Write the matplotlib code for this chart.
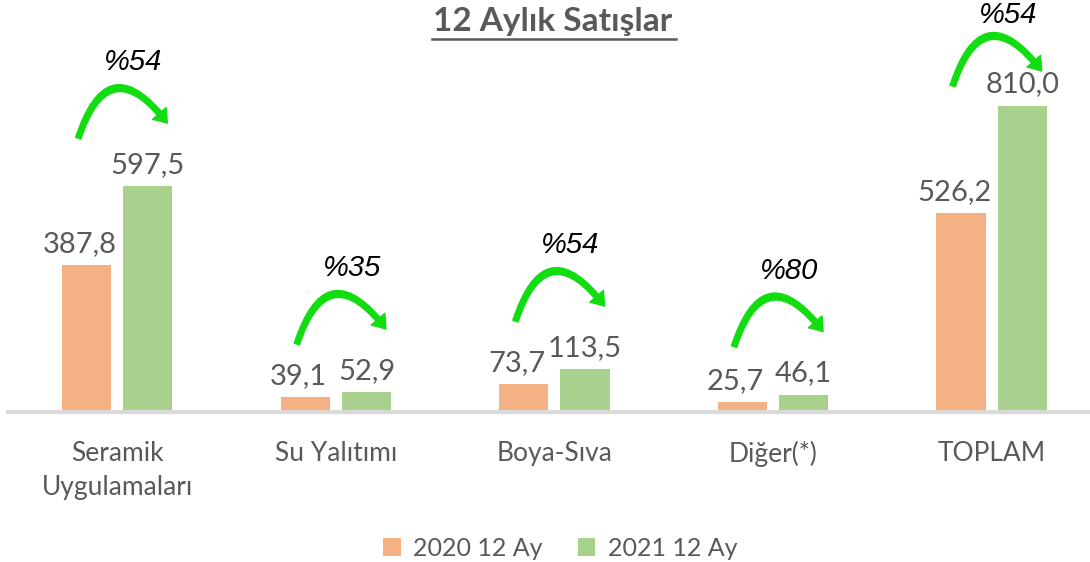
import matplotlib
matplotlib.use("Agg")
import matplotlib.pyplot as plt
from matplotlib.patches import FancyArrowPatch
from matplotlib.lines import Line2D
import numpy as np

plt.rcParams['font.family'] = ['Lato', 'DejaVu Sans']

categories = ["Seramik\nUygulamaları", "Su Yalıtımı", "Boya-Sıva", "Diğer(*)", "TOPLAM"]
sales_2020 = [387.8, 39.1, 73.7, 25.7, 526.2]
sales_2021 = [597.5, 52.9, 113.5, 46.1, 810.0]
growth_labels = ["%54", "%35", "%54", "%80", "%54"]
series_names = ["2020 12 Ay", "2021 12 Ay"]

orange = '#F4B183'
green = '#A9D18E'
gray_txt = '#595959'
arrow_green = '#11DD11'

fig = plt.figure(figsize=(10.9, 5.62), dpi=100)
ax = fig.add_axes([8 / 1090, 150 / 562, 1082 / 1090, 412 / 562])

x = np.arange(len(categories))
w = 0.225
off = 0.14
ymax = 1090
ax.set_ylim(0, ymax)
ax.set_xlim(-0.5, 4.45)

b1 = ax.bar(x - off, sales_2020, w, color=orange, label=series_names[0], zorder=2)
b2 = ax.bar(x + off, sales_2021, w, color=green, label=series_names[1], zorder=2)

def fmt(v):
    return ("%.1f" % v).replace(".", ",")

for xi, v in zip(x - off, sales_2020):
    ax.annotate(fmt(v), (xi, v), xytext=(-5, 6), textcoords='offset points',
                ha='center', va='bottom', fontsize=21, color=gray_txt)
for xi, v in zip(x + off, sales_2021):
    ax.annotate(fmt(v), (xi, v), xytext=(0, 6), textcoords='offset points',
                ha='center', va='bottom', fontsize=21, color=gray_txt)

# growth arrows
px_per_unit = 412 / ymax
dx_unit = 1082 / 4.95  # px per category
for i, (v, lab) in enumerate(zip(sales_2021, growth_labels)):
    base = min(v + 48 / px_per_unit, ymax - 86 / px_per_unit)
    start = (i - 39 / dx_unit, base)
    end = (i + 50 / dx_unit, base + 15 / px_per_unit)
    arr = FancyArrowPatch(start, end, connectionstyle="arc3,rad=-0.95",
                          arrowstyle="simple,head_width=13,head_length=9,tail_width=4",
                          mutation_scale=1, color=arrow_green, shrinkA=0, shrinkB=0,
                          zorder=3, clip_on=False)
    ax.add_patch(arr)
    ty = min(base + 76 / px_per_unit, ymax - 15 / px_per_unit)
    ax.text(i + 16 / dx_unit, ty, lab, ha='center', va='center',
            fontsize=21, style='italic', family=['Liberation Sans', 'DejaVu Sans'],
            color='black', clip_on=False)

ax.set_xticks(x)
ax.set_xticklabels(categories, fontsize=19, color=gray_txt, linespacing=1.45)
ax.tick_params(axis='x', length=0, pad=21)
ax.set_yticks([])
for s in ['top', 'right', 'left']:
    ax.spines[s].set_visible(False)
ax.spines['bottom'].set_color('#D9D9D9')
ax.spines['bottom'].set_linewidth(3)

fig.text(553 / 1090, 1 - 21 / 562, "12 Aylık Satışlar", ha='center', va='center',
         fontsize=24, fontweight='bold', color=gray_txt)
fig.add_artist(Line2D([432 / 1090, 676 / 1090], [1 - 39 / 562, 1 - 39 / 562],
                      color=gray_txt, linewidth=1.8))

fig.legend(handles=[b1, b2], labels=series_names, loc='center', bbox_to_anchor=(560 / 1090, 1 - 548 / 562),
           ncol=2, frameon=False, fontsize=18, handlelength=0.7, handleheight=0.7,
           columnspacing=1.4, handletextpad=0.5, labelcolor=gray_txt)

fig.savefig("out.png", dpi=100)
